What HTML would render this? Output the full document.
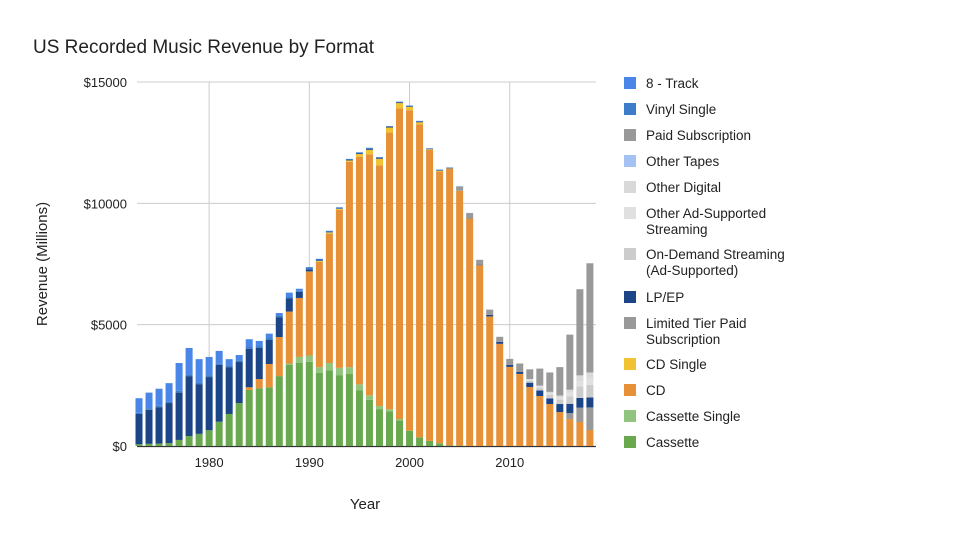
<!DOCTYPE html>
<html><head><meta charset="utf-8"><style>
body{margin:0;background:#fff;font-family:"Liberation Sans",Arial,sans-serif}
svg text{font-family:"Liberation Sans",Arial,sans-serif}
</style></head><body>
<svg id="c" width="960" height="540" xmlns="http://www.w3.org/2000/svg">
<rect width="960" height="540" fill="#fff"/>
<text x="33" y="53" font-size="19" fill="#222">US Recorded Music Revenue by Format</text>
<text transform="translate(47,264) rotate(-90)" text-anchor="middle" font-size="15" fill="#222">Revenue (Millions)</text>
<text x="365" y="509" text-anchor="middle" font-size="15" fill="#222">Year</text>
<g id="grid"></g><g id="bars"></g><g id="legend"></g>
</svg>
<script>
const years=[];for(let y=1973;y<=2018;y++)years.push(y);
const yTicks=[0,5000,10000,15000];
const yTickLabels=["$0","$5000","$10000","$15000"];
const xTicks=[1980,1990,2000,2010];
const cassette=[70,90,100,120,250,410,500,650,1000,1320,1770,2310,2380,2420,2880,3340,3420,3470,3020,3120,2920,2980,2300,1900,1520,1420,1060,630,360,210,110,24,13,0,0,0,0,0,0,0,0,0,0,0,0,0];
const cassetteSingle=[0,0,0,0,0,0,0,0,0,0,0,0,0,0,0,60,250,260,230,300,300,270,240,190,130,95,50,5,0,0,0,0,0,0,0,0,0,0,0,0,0,0,0,0,0,0];
const cd=[0,0,0,0,0,0,0,0,0,0,0,110,380,960,1610,2140,2430,3450,4340,5330,6510,8460,9380,9930,9920,11400,12800,13200,12900,12000,11200,11400,10500,9370,7450,5340,4210,3260,2970,2430,2060,1730,1400,1110,990,660];
const cdSingle=[0,0,0,0,0,0,0,0,0,0,0,0,0,0,0,0,0,10,35,45,45,56,110,185,270,210,220,140,80,20,36,15,11,7,0,0,0,0,0,0,0,0,0,0,0,0];
const limitedTier=[0,0,0,0,0,0,0,0,0,0,0,0,0,0,0,0,0,0,0,0,0,0,0,0,0,0,0,0,0,0,0,0,0,0,0,0,0,0,0,0,0,0,0,250,590,930];
const lpEp=[1250,1400,1500,1650,1950,2470,2050,2190,2340,1930,1690,1580,1280,990,820,540,250,90,30,14,10,18,25,37,33,34,32,28,27,21,22,19,14,16,23,60,80,80,80,180,230,230,330,380,400,410];
const onDemand=[0,0,0,0,0,0,0,0,0,0,0,0,0,0,0,0,0,0,0,0,0,0,0,0,0,0,0,0,0,0,0,0,0,0,0,0,0,0,0,80,100,140,180,300,470,520];
const otherAd=[0,0,0,0,0,0,0,0,0,0,0,0,0,0,0,0,0,0,0,0,0,0,0,0,0,0,0,0,0,0,0,0,0,0,0,0,0,0,0,40,50,70,90,150,230,260];
const otherDigital=[0,0,0,0,0,0,0,0,0,0,0,0,0,0,0,0,0,0,0,0,0,0,0,0,0,0,0,0,0,0,0,0,0,0,0,0,0,0,0,30,50,60,80,130,230,250];
const otherTapes=[0,0,0,0,0,0,0,0,0,0,0,0,0,0,0,0,0,0,0,0,0,0,0,0,0,0,0,0,0,0,0,0,0,0,0,0,0,0,0,0,0,0,0,0,0,0];
const paidSub=[0,0,0,0,0,0,0,0,0,0,0,0,0,0,0,0,0,0,0,0,0,0,0,0,0,0,0,0,0,0,0,0,150,200,200,220,210,250,350,400,700,800,1170,2270,3550,4500];
const vinylSingle=[50,60,60,60,70,70,70,80,70,70,70,80,80,80,70,60,50,90,60,60,50,47,46,48,35,26,27,26,31,20,22,20,13,11,0,0,0,0,0,0,0,0,0,0,0,0];
const eightTrack=[600,650,700,760,1150,1090,960,750,510,260,220,320,210,180,100,180,80,0,0,0,0,0,0,0,0,0,0,0,0,0,0,0,0,0,0,0,0,0,0,0,0,0,0,0,0,0];
const series=[
 ["cassette","Cassette",cassette,"#6aa84f"],
 ["cassette-single","Cassette Single",cassetteSingle,"#93c47d"],
 ["cd","CD",cd,"#e69138"],
 ["cd-single","CD Single",cdSingle,"#f1c232"],
 ["limited-tier","Limited Tier Paid Subscription",limitedTier,"#999999"],
 ["lp-ep","LP/EP",lpEp,"#1c4587"],
 ["on-demand","On-Demand Streaming (Ad-Supported)",onDemand,"#cccccc"],
 ["other-ad","Other Ad-Supported Streaming",otherAd,"#e0e0e0"],
 ["other-digital","Other Digital",otherDigital,"#d9d9d9"],
 ["other-tapes","Other Tapes",otherTapes,"#a4c2f4"],
 ["paid-sub","Paid Subscription",paidSub,"#999999"],
 ["vinyl-single","Vinyl Single",vinylSingle,"#3d7cc9"],
 ["eight-track","8 - Track",eightTrack,"#4a86e8"]];
const NS="http://www.w3.org/2000/svg";
const yS=v=>446-v*364/15000;
const xS=y=>139+(y-1973)*10.02;
function el(t,a,p){const e=document.createElementNS(NS,t);for(const k in a)e.setAttribute(k,a[k]);p.appendChild(e);return e;}
const grid=document.getElementById('grid');
yTicks.forEach((t,i)=>{
 if(t>0){const l=el('line',{x1:137,x2:596,y1:yS(t),y2:yS(t),stroke:'#ccc'},grid);
 }
 const tx=el('text',{x:127,y:yS(t)+5,'text-anchor':'end','font-size':13,fill:'#222'},grid);tx.textContent=yTickLabels[i];
 
});
xTicks.forEach(t=>{
 const l=el('line',{x1:xS(t),x2:xS(t),y1:82,y2:446,stroke:'#ccc'},grid);
 
 const tx=el('text',{x:xS(t),y:467,'text-anchor':'middle','font-size':13,fill:'#222'},grid);tx.textContent=t;
 
});
const bars=document.getElementById('bars');
years.forEach((yr,i)=>{
 let acc=0;
 series.forEach(s=>{const v=s[2][i]||0;if(v<=0)return;
  const r=el('rect',{x:xS(yr)-3.5,y:yS(acc+v),width:7,height:yS(acc)-yS(acc+v),fill:s[3]},bars);
  
  acc+=v;});
});
const ax=el('line',{x1:137,x2:596,y1:446.5,y2:446.5,stroke:'#333','stroke-width':1.2},grid);

const lg=document.getElementById('legend');
const rows=[["eight-track",["8 - Track"],83],["vinyl-single",["Vinyl Single"],109],["paid-sub",["Paid Subscription"],135],["other-tapes",["Other Tapes"],161],["other-digital",["Other Digital"],187],["other-ad",["Other Ad-Supported","Streaming"],213],["on-demand",["On-Demand Streaming","(Ad-Supported)"],254],["lp-ep",["LP/EP"],297],["limited-tier",["Limited Tier Paid","Subscription"],323],["cd-single",["CD Single"],364],["cd",["CD"],390],["cassette-single",["Cassette Single"],416],["cassette",["Cassette"],442]];
rows.forEach(r=>{const s=series.find(q=>q[0]===r[0]);
 const g=el('g',{},lg);
 el('rect',{x:624,y:r[2]-6,width:12,height:12,fill:s[3]},g);
 r[1].forEach((t,j)=>{const tx=el('text',{x:646,y:r[2]+5+j*16,'font-size':13.5,fill:'#222'},g);tx.textContent=t;});
});
</script>
</body></html>
